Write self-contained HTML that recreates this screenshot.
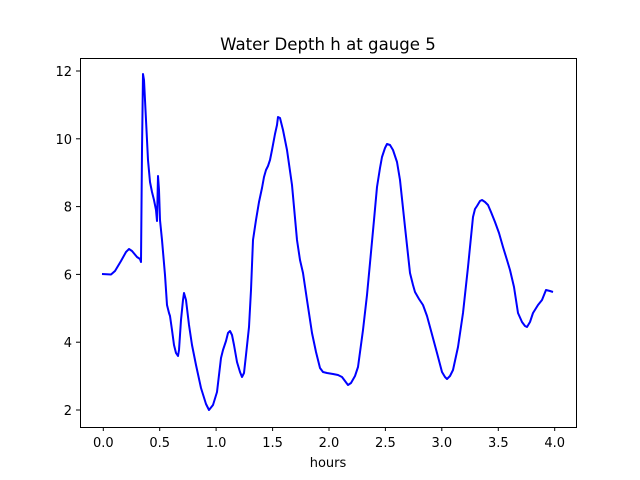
<!DOCTYPE html>
<html><head><meta charset="utf-8"><style>
html,body{margin:0;padding:0;background:#fff;}
svg{display:block;font-family:"DejaVu Sans","Liberation Sans",sans-serif;}
</style></head><body>
<svg width="640" height="480" viewBox="0 0 640 480" xmlns="http://www.w3.org/2000/svg">
<rect width="640" height="480" fill="#fff"/>
<text x="328" y="50" font-size="16.6" text-anchor="middle" fill="#000">Water Depth h at gauge 5</text>
<polyline fill="none" stroke="#0000ff" stroke-width="2" stroke-linejoin="round" points="
102,274 111,274.5 115,271 121,261 126,252 129,249 132,251 137,257 140,259 141,262 142,150 143,74 144,80 146,120 148,160 150,182 152,192 154,200 156,210 157,221 158,176 159,190 160,220 162,240 165,275 167,305 169,313 170,316 172,330 174,345 176,353 178,356 179,350 181,320 183,300 184,293 186,300 189,325 192,345 196,365 201,388 206,404 209,410 213,405 217,392 219,375 221,358 223,350 226,341 228,333 230,331 232,335 234,345 237,362 240,372 242,377 244,373 246,355 249,327 251,290 253,240 256,220 259,202 262,188 264,177 266,170 268,166 270,160 272,150 275,134 277,125 278,117 280,118 283,130 287,150 292,185 297,240 300,260 303,273 307,300 312,333 316,352 320,368 323,372 327,373 333,374 338,375 342,377 345,381 348,385 351,383 355,376 358,367 363,330 367,295 370,263 374,220 377,187 380,168 382,157 385,148 387,144 390,145 393,150 397,162 400,180 405,227 410,273 413,285 415,292 419,299 423,305 427,316 430,327 437,353 442,372 445,377 447,379 450,376 453,370 458,347 463,313 468,267 473,217 475,209 477,206 480,201 482,200 485,202 488,205 491,212 495,222 499,233 503,247 507,260 510,270 514,287 518,313 522,322 525,326 527,327 530,322 533,313 538,305 542,300 544,295 546,290 550,291 553,292"/>
<rect x="80.5" y="58.5" width="496" height="369" fill="none" stroke="#000" stroke-width="1"/>
<g stroke="#000" stroke-width="1">
<line x1="103.3" y1="427" x2="103.3" y2="431"/><line x1="159.7" y1="427" x2="159.7" y2="431"/><line x1="216.1" y1="427" x2="216.1" y2="431"/><line x1="272.6" y1="427" x2="272.6" y2="431"/><line x1="329" y1="427" x2="329" y2="431"/><line x1="385.4" y1="427" x2="385.4" y2="431"/><line x1="441.8" y1="427" x2="441.8" y2="431"/><line x1="498.3" y1="427" x2="498.3" y2="431"/><line x1="554.7" y1="427" x2="554.7" y2="431"/>
<line x1="76" y1="410" x2="80" y2="410"/><line x1="76" y1="342.2" x2="80" y2="342.2"/><line x1="76" y1="274.4" x2="80" y2="274.4"/><line x1="76" y1="206.6" x2="80" y2="206.6"/><line x1="76" y1="138.8" x2="80" y2="138.8"/><line x1="76" y1="71" x2="80" y2="71"/>
</g>
<g font-size="13" fill="#000" text-anchor="middle">
<text x="103.3" y="447">0.0</text><text x="159.7" y="447">0.5</text><text x="216.1" y="447">1.0</text><text x="272.6" y="447">1.5</text><text x="329" y="447">2.0</text><text x="385.4" y="447">2.5</text><text x="441.8" y="447">3.0</text><text x="498.3" y="447">3.5</text><text x="554.7" y="447">4.0</text>
<text x="328" y="467">hours</text>
</g>
<g font-size="13" fill="#000" text-anchor="end">
<text x="72" y="415">2</text><text x="72" y="347.2">4</text><text x="72" y="279.4">6</text><text x="72" y="211.6">8</text><text x="72" y="143.8">10</text><text x="72" y="76">12</text>
</g>
</svg>
</body></html>
